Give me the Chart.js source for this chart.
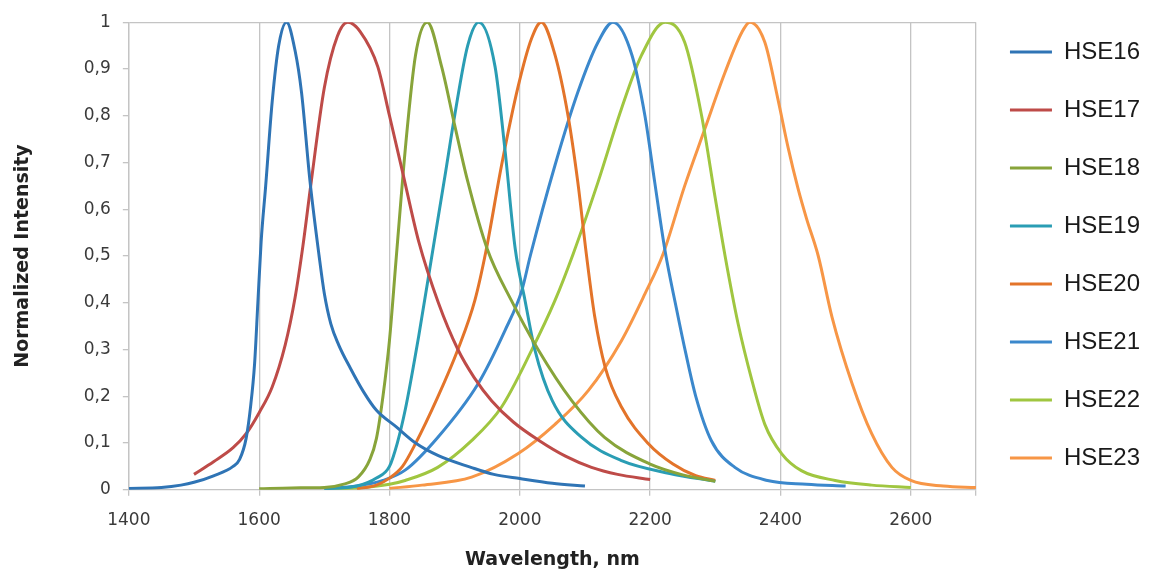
<!DOCTYPE html>
<html>
<head>
<meta charset="utf-8">
<script src="https://cdn.jsdelivr.net/npm/chart.js@4.4.1/dist/chart.umd.min.js"></script>
<style>
  html, body { margin: 0; padding: 0; background: #fff; }
  #wrap { width: 1150px; height: 575px; }
</style>
</head>
<body>
<div id="wrap"><canvas id="spectra"></canvas></div>
<script>
/* Spectros normalizados HSE16 ... HSE23 */

const seriesNames = ['HSE16', 'HSE17', 'HSE18', 'HSE19', 'HSE20', 'HSE21', 'HSE22', 'HSE23'];

const hse16Nm  = [1400, 1450, 1480, 1500, 1530, 1560, 1570, 1580, 1587, 1593, 1598, 1603, 1610, 1620, 1630, 1642, 1655, 1665, 1678, 1692, 1700, 1710, 1722, 1740, 1760, 1780, 1810, 1840, 1875, 1925, 1960, 2000, 2050, 2100];
const hse16Val = [0.003, 0.005, 0.01, 0.016, 0.03, 0.05, 0.065, 0.11, 0.18, 0.27, 0.4, 0.53, 0.65, 0.83, 0.95, 1.0, 0.94, 0.85, 0.66, 0.5, 0.42, 0.355, 0.31, 0.26, 0.21, 0.17, 0.135, 0.1, 0.073, 0.048, 0.033, 0.024, 0.014, 0.008];

const hse17Nm  = [1500, 1530, 1560, 1580, 1600, 1620, 1640, 1655, 1667, 1680, 1700, 1720, 1736, 1755, 1782, 1800, 1820, 1845, 1875, 1905, 1930, 1957, 1990, 2030, 2070, 2110, 2150, 2200];
const hse17Val = [0.033, 0.06, 0.09, 0.12, 0.165, 0.22, 0.31, 0.41, 0.52, 0.66, 0.86, 0.97, 1.0, 0.98, 0.905, 0.8, 0.68, 0.53, 0.4, 0.3, 0.24, 0.19, 0.145, 0.105, 0.072, 0.048, 0.033, 0.022];

const hse18Nm  = [1600, 1650, 1700, 1730, 1752, 1770, 1780, 1790, 1800, 1810, 1825, 1840, 1858, 1880, 1900, 1920, 1950, 1987, 2028, 2080, 2130, 2200, 2250, 2300];
const hse18Val = [0.002, 0.004, 0.005, 0.012, 0.027, 0.065, 0.11, 0.2, 0.32, 0.49, 0.74, 0.93, 1.0, 0.905, 0.78, 0.66, 0.515, 0.405, 0.3, 0.19, 0.112, 0.055, 0.032, 0.018];

const hse19Nm  = [1700, 1750, 1780, 1800, 1812, 1824, 1845, 1865, 1885, 1900, 1920, 1937, 1962, 1977, 1993, 2008, 2023, 2050, 2095, 2155, 2230, 2300];
const hse19Val = [0.002, 0.008, 0.025, 0.05, 0.1, 0.17, 0.33, 0.5, 0.67, 0.8, 0.95, 1.0, 0.905, 0.73, 0.515, 0.405, 0.3, 0.19, 0.112, 0.063, 0.035, 0.018];

const hse20Nm  = [1750, 1780, 1800, 1820, 1840, 1874, 1905, 1931, 1948, 1972, 1997, 2018, 2033, 2054, 2074, 2089, 2102, 2115, 2131, 2156, 2197, 2235, 2270, 2300];
const hse20Val = [0.002, 0.01, 0.025, 0.05, 0.099, 0.198, 0.3, 0.405, 0.51, 0.694, 0.86, 0.965, 1.0, 0.93, 0.8, 0.658, 0.505, 0.37, 0.262, 0.177, 0.099, 0.055, 0.03, 0.02];

const hse21Nm  = [1700, 1750, 1790, 1824, 1874, 1936, 1977, 2003, 2016, 2054, 2089, 2120, 2143, 2172, 2192, 2207, 2223, 2240, 2255, 2270, 2294, 2330, 2380, 2440, 2500];
const hse21Val = [0.002, 0.008, 0.02, 0.042, 0.112, 0.227, 0.34, 0.426, 0.5, 0.694, 0.85, 0.957, 1.0, 0.93, 0.8, 0.658, 0.51, 0.39, 0.29, 0.2, 0.105, 0.048, 0.02, 0.012, 0.008];

const hse22Nm  = [1700, 1750, 1800, 1824, 1874, 1926, 1972, 2018, 2054, 2082, 2120, 2156, 2187, 2223, 2253, 2279, 2300, 2315, 2335, 2356, 2376, 2402, 2432, 2484, 2540, 2600];
const hse22Val = [0.001, 0.004, 0.012, 0.02, 0.048, 0.105, 0.177, 0.298, 0.405, 0.505, 0.658, 0.815, 0.93, 1.0, 0.957, 0.8, 0.623, 0.5, 0.355, 0.235, 0.14, 0.077, 0.041, 0.02, 0.01, 0.005];

const hse23Nm  = [1800, 1850, 1926, 1997, 2054, 2105, 2156, 2192, 2220, 2253, 2284, 2315, 2341, 2353, 2376, 2396, 2412, 2427, 2440, 2458, 2479, 2510, 2540, 2571, 2600, 2650, 2700];
const hse23Val = [0.003, 0.01, 0.027, 0.077, 0.14, 0.212, 0.319, 0.419, 0.505, 0.65, 0.772, 0.893, 0.979, 1.0, 0.957, 0.836, 0.73, 0.644, 0.58, 0.5, 0.37, 0.227, 0.12, 0.048, 0.02, 0.008, 0.005];

// Ejes
const xMin = 1400, xMax = 2700, xStep = 200;
const yMin = 0, yMax = 1, yStep = 0.1;

// Colores de cada serie (estilo Excel)
const COLORS = ['#2f74b5', '#be4b48', '#88a43a', '#2a9db4', '#e3742a', '#3b88cc', '#a0c640', '#f79646'];
const GRID = '#c4c4c4';
const TEXT = '#3a3a3a';

const allNm  = [hse16Nm, hse17Nm, hse18Nm, hse19Nm, hse20Nm, hse21Nm, hse22Nm, hse23Nm];
const allVal = [hse16Val, hse17Val, hse18Val, hse19Val, hse20Val, hse21Val, hse22Val, hse23Val];

const datasets = seriesNames.map((name, i) => ({
  label: name,
  data: allNm[i].map((nm, k) => ({ x: nm, y: allVal[i][k] })),
  borderColor: COLORS[i],
  backgroundColor: COLORS[i],
  borderWidth: 3,
  pointRadius: 0,
  showLine: true,
  cubicInterpolationMode: 'monotone',
  fill: false,
}));

// La leyenda ocupa todo el alto; la subimos un poco para alinearla con el original
const legendNudge = {
  id: 'legendNudge',
  afterLayout(chart) {
    chart.legend.top -= 16;
    chart.legend.bottom -= 16;
  },
};

new Chart(document.getElementById('spectra'), {
  type: 'scatter',
  data: { datasets },
  plugins: [legendNudge],
  options: {
    responsive: true,
    maintainAspectRatio: false,
    animation: false,
    layout: { padding: { top: 22, right: 0, bottom: 0, left: 0 } },
    plugins: {
      tooltip: { enabled: false },
      legend: {
        position: 'right',
        align: 'start',
        labels: {
          usePointStyle: true,
          pointStyle: 'line',
          pointStyleWidth: 42,
          padding: 34,
          color: '#1a1a1a',
          font: { family: "'Liberation Sans', Arial, sans-serif", size: 24 },
        },
      },
    },
    scales: {
      x: {
        type: 'linear',
        min: xMin,
        max: xMax,
        ticks: {
          stepSize: xStep,
          padding: 15,
          color: TEXT,
          font: { family: "'DejaVu Sans', sans-serif", size: 17 },
          // el 2700 no lleva etiqueta en el original
          callback: (v) => (v % xStep === 0 ? String(v) : ''),
        },
        grid: { color: GRID, lineWidth: 1.3, tickLength: 6 },
        border: { color: GRID, width: 1.3 },
        title: {
          display: true,
          text: 'Wavelength, nm',
          color: '#222',
          font: { family: "'DejaVu Sans', sans-serif", size: 19, weight: 'bold' },
          padding: { top: 2, bottom: 4 },
        },
      },
      y: {
        min: yMin,
        max: yMax,
        ticks: {
          stepSize: yStep,
          padding: 12,
          color: TEXT,
          font: { family: "'DejaVu Sans', sans-serif", size: 17 },
          callback: (v) => (Math.round(v * 10) / 10).toString().replace('.', ','),
        },
        grid: {
          // solo la línea superior (borde del área de trazado)
          color: (ctx) => (ctx.tick && ctx.tick.value === yMax ? GRID : 'rgba(0,0,0,0)'),
          tickColor: GRID,
          lineWidth: 1.3,
          tickLength: 6,
        },
        border: { color: GRID, width: 1.3 },
        title: {
          display: true,
          text: 'Normalized Intensity',
          color: '#222',
          font: { family: "'DejaVu Sans', sans-serif", size: 19, weight: 'bold' },
          padding: { top: 12, bottom: 37 },
        },
      },
    },
  },
});
</script>
</body>
</html>
